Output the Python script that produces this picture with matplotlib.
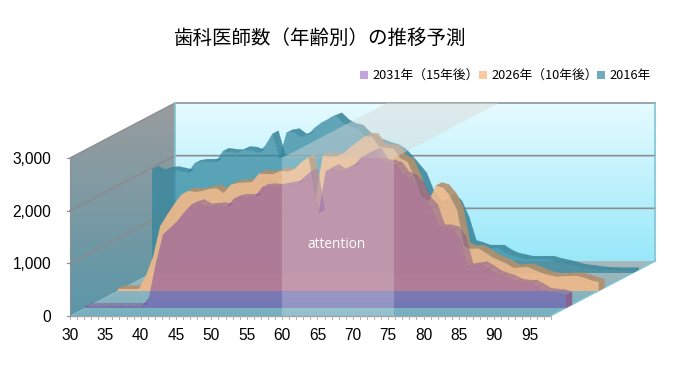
import numpy as np
import matplotlib
matplotlib.use("Agg")
import matplotlib.pyplot as plt
from matplotlib.colors import LinearSegmentedColormap
from matplotlib.patches import Polygon, Rectangle

plt.rcParams['font.family'] = ['Noto Sans CJK JP', 'DejaVu Sans']

# ===================== data =====================
ages = np.arange(30, 99)
tick_ages = [30, 35, 40, 45, 50, 55, 60, 65, 70, 75, 80, 85, 90, 95]
y_ticks = [0, 1000, 2000, 3000]

title = "歯科医師数（年齢別）の推移予測"
labels = ["2031年（15年後）", "2026年（10年後）", "2016年"]

y2031 = [30, 30, 30, 30, 30, 30, 30, 30, 30, 200,
         860, 1400, 1520, 1650, 1820, 1960, 2000, 1920, 1930, 1940,
         1920, 2070, 2100, 2100, 2110, 2290, 2300, 2290, 2310, 2340,
         2360, 2490, 2600, 1800, 2600, 2670, 2580, 2650, 2700, 2860,
         2930, 2980, 2760, 2750, 2700, 2520, 2470, 2330, 2050, 1900,
         1520, 1520, 1480, 1300, 780, 800, 820, 740, 650, 600,
         560, 490, 470, 470, 400, 320, 300, 290, 250]
y2026 = [40, 40, 40, 40, 300, 650, 1230, 1450, 1650, 1830,
         1900, 1880, 1900, 1940, 1950, 1860, 2020, 2050, 2060, 2070,
         2230, 2220, 2220, 2280, 2270, 2310, 2450, 2540, 1790, 2570,
         2550, 2560, 2620, 2740, 2840, 2940, 2930, 2740, 2720, 2700,
         2520, 2450, 2150, 1800, 1700, 2000, 1960, 1800, 1540, 850,
         800, 810, 730, 640, 580, 520, 440, 450, 455, 400,
         340, 300, 270, 280, 285, 285, 250, 200, 170]
y2016 = [1970, 1900, 1950, 1960, 1930, 1900, 2080, 2100, 2100, 2110,
         2310, 2290, 2280, 2340, 2330, 2280, 2420, 2640, 2180, 2660,
         2680, 2580, 2620, 2760, 2860, 2930, 2980, 2850, 2780, 2750,
         2610, 2520, 2470, 2420, 2380, 2300, 2160, 2000, 1840, 1500,
         1300, 1300, 1450, 1300, 1000, 560, 520, 470, 470, 470,
         380, 320, 290, 260, 260, 260, 260, 220, 190, 160,
         120, 95, 80, 60, 50, 45, 40, 40, 40]

# ===================== oblique projection =====================
X0, Y0 = 70, 316
PX_AGE = 7.07
PX_VAL = 0.05267
SKEW = 105 / 55
DEPTH = 55
AGE_END = 97.9


def project(age, val, d=0):
    age = np.asarray(age, dtype=float)
    val = np.asarray(val, dtype=float)
    return X0 + (age - 30) * PX_AGE + d * SKEW, Y0 - d - val * PX_VAL


def pts(age, val, d=0):
    x, y = project(age, val, d)
    return np.column_stack([x, y])


fig = plt.figure(figsize=(6.8, 3.77), dpi=100)
ax = fig.add_axes([0, 0, 1, 1])
ax.axis("off")


def gradient(poly, top, bottom, z):
    xs, ys = poly[:, 0], poly[:, 1]
    cmap = LinearSegmentedColormap.from_list("g", [top, bottom])
    im = ax.imshow(np.linspace(0, 1, 128).reshape(-1, 1), cmap=cmap, aspect="auto",
                   extent=(xs.min(), xs.max(), ys.max(), ys.min()), zorder=z)
    im.set_clip_path(Polygon(poly, transform=ax.transData))


# walls
back = pts([30, AGE_END, AGE_END, 30], [3000, 3000, 0, 0], DEPTH)
gradient(back, "#e6fbff", "#98e8fa", 1)
side = np.vstack([pts([30, 30], [3000, 0], 0), pts([30, 30], [0, 3000], DEPTH)])
gradient(side, "#9a9c9e", "#5b97a8", 2)
floor = np.vstack([pts([30, AGE_END], [0, 0], 0), pts([AGE_END, 30], [0, 0], DEPTH)])
gradient(floor, "#a9b8bc", "#74b0c0", 2)

for v in y_ticks[1:]:
    p = np.vstack([pts([30], [v], 0), pts([30, AGE_END], [v, v], DEPTH)])
    if v < 3000:
        ax.plot(p[:, 0], p[:, 1], color="#8b8b8f", lw=1.2, zorder=3)
    else:
        ax.plot(p[:2, 0], p[:2, 1], color="#8b8f92", lw=1.0, zorder=3)
        ax.plot(p[1:, 0], p[1:, 1], color="#9aa6aa", lw=1.4, zorder=3)
ax.plot(back[[0, 3], 0], back[[0, 3], 1], color="#7fc4d2", lw=1.2, zorder=3)
ax.plot(back[[1, 2], 0], back[[1, 2], 1], color="#7fc4d2", lw=1.2, zorder=3)
ax.plot(floor[[1, 2], 0], floor[[1, 2], 1], color="#7fc4d2", lw=1.2, zorder=3)
ax.plot(side[[0, 1], 0], side[[0, 1], 1], color="#8a9093", lw=0.8, zorder=3)

# series, back to front
series = [
    (y2016, 43, "#31859c", "#3d889d", 0.72, 0.9),
    (y2026, 25, "#efb98a", "#b58f6c", 0.92, 0.9),
    (y2031, 8, "#6729a5", "#8a5f8e", 0.42, 0.55),
]
thick = 3.2
for i, (vals, d, col, dark, a, ra) in enumerate(series):
    z = 5 + i * 2
    # top surface only where it faces the viewer
    for j in range(len(ages) - 1):
        rise = (vals[j + 1] - vals[j]) * PX_VAL / PX_AGE
        if rise < 0.52:
            quad = np.vstack([pts(ages[j:j + 2], vals[j:j + 2], d),
                              pts(ages[j:j + 2][::-1], vals[j:j + 2][::-1], d + thick)])
            ax.add_patch(Polygon(quad, closed=True, fc=dark, ec=dark, lw=0.2, alpha=ra, zorder=z))
    end = np.vstack([pts([98, 98], [vals[-1], 0], d), pts([98, 98], [0, vals[-1]], d + thick)])
    ax.add_patch(Polygon(end, closed=True, fc=dark, ec="none", alpha=0.95, zorder=z))
    face = np.vstack([pts(ages, vals, d), pts([98, 30], [0, 0], d)])
    ax.add_patch(Polygon(face, closed=True, fc=col, ec="none", alpha=a, zorder=z + 1))

# attention box
box_front = [[282, 158], [394, 158], [394, 316], [282, 316]]
box_top = [[282, 158], [394, 158], [394 + 105, 103], [282 + 105, 103]]
ax.add_patch(Polygon(box_front, closed=True, fc="white", ec="none", alpha=0.22, zorder=12))
ax.add_patch(Polygon(box_top, closed=True, fc="#d8d8d8", ec="none", alpha=0.45, zorder=12))
ax.text(336.5, 245, "attention", color="white", fontsize=9.8, ha="center", va="center",
        family="Open Sans", zorder=13)

# axis ticks and labels
ax.plot([X0, project(AGE_END, 0)[0]], [Y0, Y0], color="#a0a4a6", lw=1.0, zorder=14)
for a in ages:
    x, y = project(a, 0)
    ax.plot([x, x], [y, y + 3], color="#b0b0b0", lw=0.7, zorder=14)
for a in tick_ages:
    x, y = project(a, 0)
    ax.text(x, y + 19.5, str(a), fontsize=11.2, ha="center", va="center",
            family="Liberation Sans", color="black")
for v in y_ticks:
    x, y = project(30, v)
    ax.plot([x - 3, x], [y, y], color="#909090", lw=0.8, zorder=14)
    ax.text(51, y + 1.5, f"{v:,}", fontsize=11.2, ha="right", va="center",
            family="Liberation Sans", color="black")

# title and legend
ax.text(320, 38.5, title, fontsize=14, ha="center", va="center", color="black")
legend_x = [360, 479, 597]
legend_col = ["#bfa5d9", "#fac9a0", "#71a9bd"]
for lx, lab, c in zip(legend_x, labels, legend_col):
    ax.add_patch(Rectangle((lx, 71), 8, 8, fc=c, ec="none", zorder=14))
    ax.text(lx + 12, 75.8, lab, fontsize=9.2, ha="left", va="center", color="black")

ax.set_xlim(0, 680)
ax.set_ylim(377, 0)
fig.savefig("out.png", dpi=100)
